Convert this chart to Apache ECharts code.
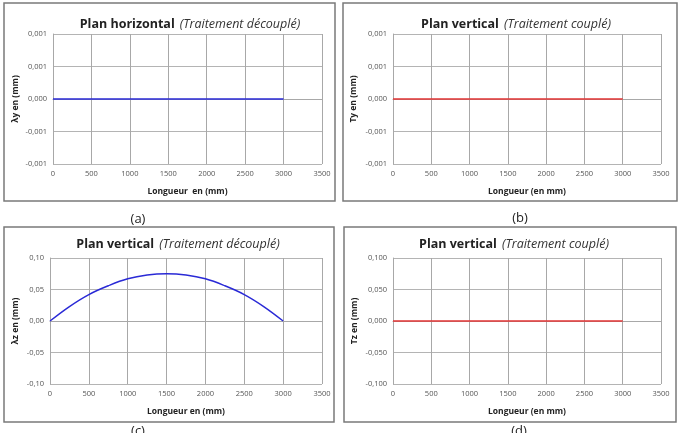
<!DOCTYPE html>
<html lang="fr">
<head>
    <meta charset="UTF-8">
    <title>Plans horizontal et vertical</title>
    <script src="https://cdn.jsdelivr.net/npm/echarts@6/dist/echarts.min.js"></script>
    <style>
        html, body { margin: 0; padding: 0; background: #fff; }
        #chart { width: 684px; height: 433px; }
    </style>
</head>
<body>
    <div id="chart"></div>
    <script>
        // abscisses (mm)
        const longueur = [0, 250, 500, 750, 1000, 1250, 1500, 1750, 2000, 2250, 2500, 2750, 3000];
        // (a) λy, (b) Ty, (d) Tz : nuls
        const lambdaY = [0, 0, 0, 0, 0, 0, 0, 0, 0, 0, 0, 0, 0];
        const tY = [0, 0, 0, 0, 0, 0, 0, 0, 0, 0, 0, 0, 0];
        const tZ = [0, 0, 0, 0, 0, 0, 0, 0, 0, 0, 0, 0, 0];
        // (c) λz
        const lambdaZ = [0, 0.023, 0.042, 0.056, 0.067, 0.073, 0.075, 0.073, 0.067, 0.056, 0.042, 0.023, 0];

        // étiquettes des axes
        const xTicks = ['0', '500', '1000', '1500', '2000', '2500', '3000', '3500'];
        const yTicksAB = ['-0,001', '-0,001', '0,000', '0,001', '0,001'];
        const yTicksC = ['-0,10', '-0,05', '0,00', '0,05', '0,10'];
        const yTicksD = ['-0,100', '-0,050', '0,000', '0,050', '0,100'];

        const titles = [
            ['Plan horizontal', '(Traitement découplé)'],
            ['Plan vertical', '(Traitement couplé)'],
            ['Plan vertical', '(Traitement découplé)'],
            ['Plan vertical', '(Traitement couplé)']
        ];
        const yNames = ['λy en (mm)', 'Ty en (mm)', 'λz en (mm)', 'Tz en (mm)'];
        const xNames = ['Longueur  en (mm)', 'Longueur (en mm)', 'Longueur en (mm)', 'Longueur (en mm)'];
        const captions = ['(a)', '(b)', '(c)', '(d)'];

        const FONT = '"Open Sans", "DejaVu Sans", sans-serif';

        // mise en page de chaque panneau
        const panels = [
            { grid: { left: 53, top: 34, width: 269, height: 130 }, box: [4, 3, 331, 198], titleX: 190, titleY: 24, cap: [138, 219], yGap: 33, ticks: yTicksAB, min: -0.001, max: 0.001, step: 0.0005, data: lambdaY, color: '#2a2ad6' },
            { grid: { left: 393, top: 34, width: 268, height: 130 }, box: [343, 3, 334, 198], titleX: 516, titleY: 24, cap: [520, 218], yGap: 35, ticks: yTicksAB, min: -0.001, max: 0.001, step: 0.0005, data: tY, color: '#e23434' },
            { grid: { left: 50, top: 258, width: 272, height: 126 }, box: [4, 227, 330, 195], titleX: 178, titleY: 244, cap: [138, 431], yGap: 30, ticks: yTicksC, min: -0.1, max: 0.1, step: 0.05, data: lambdaZ, color: '#2a2ad6' },
            { grid: { left: 393, top: 258, width: 268, height: 126 }, box: [344, 227, 332, 195], titleX: 514, titleY: 244, cap: [519, 431], yGap: 34, ticks: yTicksD, min: -0.1, max: 0.1, step: 0.05, data: tZ, color: '#e23434' }
        ];

        const option = {
            backgroundColor: '#fff',
            animation: false,
            title: [],
            grid: [],
            xAxis: [],
            yAxis: [],
            series: [],
            graphic: []
        };

        panels.forEach((p, i) => {
            option.grid.push(p.grid);

            // titre : partie grasse + partie italique
            option.title.push({
                text: '{b|' + titles[i][0] + '} {it|' + titles[i][1] + '}',
                left: p.titleX,
                top: p.titleY - 9,
                textAlign: 'center',
                padding: 0,
                textStyle: {
                    fontWeight: 'normal',
                    rich: {
                        b: { fontFamily: FONT, fontWeight: 'bold', fontSize: 12.5, color: '#222' },
                        it: { fontFamily: FONT, fontStyle: 'italic', fontWeight: 'normal', fontSize: 12.5, color: '#333' }
                    }
                }
            });

            option.xAxis.push({
                type: 'value',
                gridIndex: i,
                min: 0,
                max: 3500,
                interval: 500,
                name: xNames[i],
                nameLocation: 'middle',
                nameGap: 23,
                nameTextStyle: { fontFamily: FONT, fontWeight: 'bold', fontSize: 8.5, color: '#222' },
                axisLine: { show: true, lineStyle: { color: '#a8a8a8', width: 1 } },
                axisTick: { show: false },
                axisLabel: {
                    fontFamily: FONT, fontSize: 7.5, color: '#555', margin: 6,
                    formatter: (v, idx) => xTicks[idx]
                },
                splitLine: { show: true, lineStyle: { color: '#a8a8a8', width: 1 } }
            });

            option.yAxis.push({
                type: 'value',
                gridIndex: i,
                min: p.min,
                max: p.max,
                interval: p.step,
                name: yNames[i],
                nameLocation: 'middle',
                nameGap: p.yGap,
                nameRotate: 90,
                nameTextStyle: { fontFamily: FONT, fontWeight: 'bold', fontSize: 8.5, color: '#222' },
                axisLine: { show: true, lineStyle: { color: '#a8a8a8', width: 1 } },
                axisTick: { show: false },
                axisLabel: {
                    fontFamily: FONT, fontSize: 7.5, color: '#555', margin: 6,
                    formatter: (v, idx) => p.ticks[idx]
                },
                splitLine: { show: true, lineStyle: { color: '#b4b4b4', width: 1 } }
            });

            option.series.push({
                type: 'line',
                xAxisIndex: i,
                yAxisIndex: i,
                data: longueur.map((x, k) => [x, p.data[k]]),
                smooth: 0.4,
                showSymbol: false,
                lineStyle: { color: p.color, width: 1.5 }
            });

            // cadre du panneau
            option.graphic.push({
                type: 'rect',
                silent: true,
                shape: { x: p.box[0], y: p.box[1], width: p.box[2], height: p.box[3] },
                style: { fill: 'none', stroke: '#7a7a7a', lineWidth: 1.5 }
            });

            // légende (a), (b)...
            option.graphic.push({
                type: 'text',
                silent: true,
                x: p.cap[0],
                y: p.cap[1],
                style: {
                    text: captions[i],
                    fontFamily: FONT,
                    fontSize: 13,
                    fill: '#222',
                    textAlign: 'center',
                    textVerticalAlign: 'middle'
                }
            });
        });

        const chart = echarts.init(document.getElementById('chart'), null, { renderer: 'canvas' });
        chart.setOption(option);
    </script>
</body>
</html>
